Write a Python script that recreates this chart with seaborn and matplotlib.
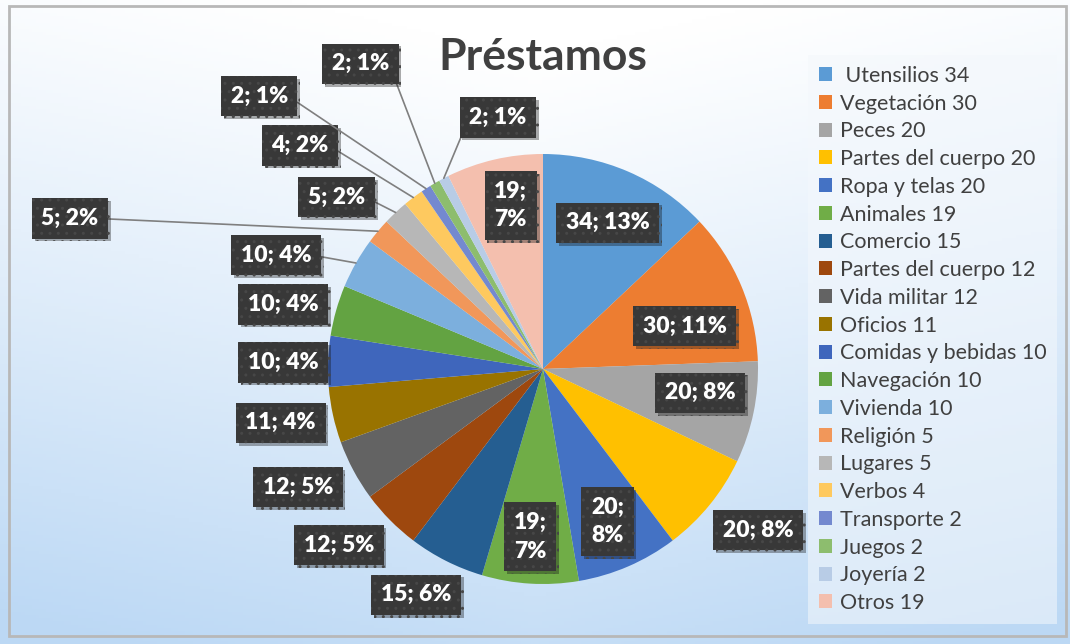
import numpy as np
import matplotlib
matplotlib.use('Agg')
import matplotlib.pyplot as plt
import matplotlib.patheffects as pe
from matplotlib.patches import Rectangle
import seaborn as sns

sns.set_theme(style='white')
plt.rcParams['font.family'] = ['Lato', 'DejaVu Sans']

# datos
categorias = [' Utensilios', 'Vegetación', 'Peces', 'Partes del cuerpo', 'Ropa y telas',
              'Animales', 'Comercio', 'Partes del cuerpo', 'Vida militar', 'Oficios',
              'Comidas y bebidas', 'Navegación', 'Vivienda', 'Religión', 'Lugares',
              'Verbos', 'Transporte', 'Juegos', 'Joyería', 'Otros']
valores = [34, 30, 20, 20, 20, 19, 15, 12, 12, 11, 10, 10, 10, 5, 5, 4, 2, 2, 2, 19]
colores = ['#5B9BD5', '#ED7D31', '#A5A5A5', '#FFC000', '#4472C4', '#70AD47', '#255E91',
           '#9E480E', '#636363', '#997300', '#3F66BC', '#63A342', '#7CAFDD', '#F1975A',
           '#B7B7B7', '#FEC95F', '#7489CF', '#8DBD6E', '#B8CCE6', '#F4BFAE']

# posicion de las etiquetas (unidades del radio) y si llevan linea guia
pos_etiquetas = [(0.30, 0.68), (0.66, 0.20), (0.73, -0.11), (1.00, -0.75), (0.30, -0.71),
                 (-0.06, -0.78), (-0.59, -1.05), (-0.95, -0.82), (-1.14, -0.55), (-1.22, -0.25),
                 (-1.21, 0.03), (-1.21, 0.30), (-1.24, 0.53), (-2.20, 0.70), (-0.96, 0.80),
                 (-1.13, 1.04), (-1.32, 1.27), (-0.85, 1.42), (-0.21, 1.17), (-0.15, 0.76)]
con_linea = [False] * 12 + [True] * 7 + [False]
dos_lineas = {4, 5, 19}

W, H = 1070, 644
cx, cy, R = 543, 369, 215

fig = plt.figure(figsize=(W / 100, H / 100), dpi=100)
ax = fig.add_axes([0, 0, 1, 1])
xlim = (-cx / R, (W - cx) / R)
ylim = ((cy - H) / R, cy / R)

# fondo degradado
xx, yy = np.meshgrid(np.linspace(0, 1, 300), np.linspace(0, 1, 200))
f = np.clip(yy * 0.95 + np.abs(xx - 0.5) * 0.35 - 0.08, 0, 1) ** 1.1
c0 = np.array([1.0, 1.0, 1.0])
c1 = np.array([0.74, 0.85, 0.96])
img = c0 + (c1 - c0) * f[..., None]
ax.imshow(img, extent=(xlim[0], xlim[1], ylim[0], ylim[1]), origin='upper',
          aspect='auto', zorder=0)
# marco
ax.add_patch(Rectangle(((9 - cx) / R, (cy - 636) / R), (1066 - 9) / R, (636 - 6) / R,
                       fill=False, ec='#B8B8B8', lw=2, zorder=1))

total = sum(valores)
wedges, _ = ax.pie(valores, colors=colores, startangle=90, counterclock=False,
                   radius=1, center=(0, 0), wedgeprops=dict(linewidth=0))
for w in wedges:
    w.set_zorder(2)

caja = dict(boxstyle='square,pad=0.42', fc='#383838', ec='#474747', lw=0, hatch='..')
acum = 0
for i, v in enumerate(valores):
    medio = 90 - (acum + v / 2) / total * 360
    acum += v
    pct = round(v / total * 100)
    txt = f'{v};\n{pct}%' if i in dos_lineas else f'{v}; {pct}%'
    lx, ly = pos_etiquetas[i]
    if con_linea[i]:
        ex, ey = np.cos(np.radians(medio)), np.sin(np.radians(medio))
        rel = (1, 0.5) if lx < ex else (0, 0.5)
        t = ax.annotate(txt, xy=(ex, ey), xytext=(lx, ly), ha='center', va='center',
                        fontsize=16.5, fontweight='heavy', color='white', bbox=caja,
                        zorder=5, arrowprops=dict(arrowstyle='-', color='#7F7F7F', lw=1.2,
                                                  relpos=rel, shrinkA=0, shrinkB=0))
    else:
        t = ax.text(lx, ly, txt, ha='center', va='center', fontsize=16.5, fontweight='heavy',
                    color='white', bbox=caja, zorder=5, linespacing=1.45)
    t.get_bbox_patch().set_path_effects([pe.SimplePatchShadow(offset=(2, -2), alpha=0.35),
                                         pe.Normal()])

ax.text(0, (cy - 57) / R, 'Préstamos', ha='center', va='center', fontsize=32,
        fontweight='bold', color='#404040', zorder=5)

etiquetas = [f'{c} {v}' for c, v in zip(categorias, valores)]
leg = ax.legend(wedges, etiquetas, loc='upper left', bbox_to_anchor=(808 / W, 1 - 55 / H),
                bbox_transform=fig.transFigure, fontsize=15.5, labelspacing=0.36,
                handlelength=0.62, handleheight=0.62, handletextpad=0.35, borderpad=0.5,
                borderaxespad=0, frameon=True, fancybox=False, framealpha=0.55,
                facecolor='#F4F8FC', edgecolor='none')
for t in leg.get_texts():
    t.set_color('#404040')
leg.set_zorder(4)

ax.set_xlim(xlim)
ax.set_ylim(ylim)
ax.set_aspect('auto')
ax.axis('off')

fig.savefig('out.png', dpi=100)
